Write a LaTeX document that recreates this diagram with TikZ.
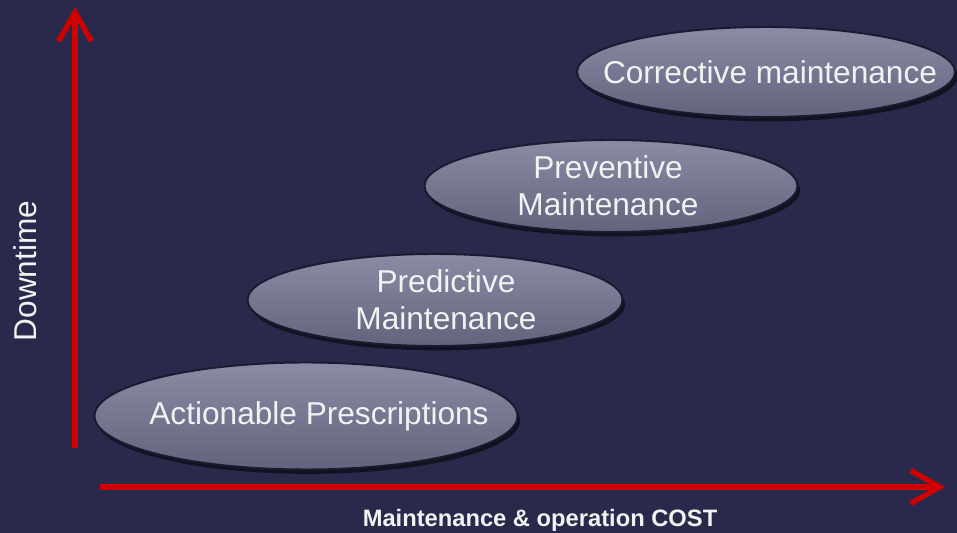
\documentclass[tikz,border=0pt]{standalone}
\usepackage{fontspec}
\setmainfont{Liberation Sans}
\usepackage{tikz}
\usetikzlibrary{arrows.meta,positioning,shapes.geometric,shadows}
\definecolor{NightBg}{HTML}{292A4B}
\definecolor{PillTop}{HTML}{8A8BA4}
\definecolor{PillMid}{HTML}{6B6C86}
\definecolor{PillLow}{HTML}{62637D}
\definecolor{PillRim}{HTML}{1A1B30}
\definecolor{AxisRed}{HTML}{D00000}
\definecolor{LabelWhite}{HTML}{F2F2F2}

\begin{document}
\begin{tikzpicture}[x=0.02cm, y=0.02cm, font=\fontsize{18}{21}\selectfont,
  stage/.style={ellipse, draw=PillRim, line width=1.1pt, top color=PillTop, middle color=PillMid, bottom color=PillLow,
    drop shadow={shadow xshift=1.5pt, shadow yshift=-2.5pt, opacity=0.55, fill=black}, inner sep=0pt},
  caption/.style={text=LabelWhite, align=center},
  axis/.style={line width=3pt, AxisRed, -{Straight Barb[length=0.58cm, width=0.66cm]}}]
\useasboundingbox (0,0) rectangle (957,533);
\fill[NightBg] (0,0) rectangle (957,533);

% axes
\coordinate (origin) at (75,85);
\coordinate (ytop) at (75,526);
\coordinate (xstart) at (100,46);
\coordinate (xend) at (945,46);
\draw[axis] (origin) -- (ytop);
\draw[axis] (xstart) -- (xend);

\node[caption, rotate=90] (ylabel) at (25,262) {Downtime};
\node[caption, font=\bfseries\fontsize{13.5}{16}\selectfont] (xlabel) at (540,13) {Maintenance \& operation COST};

% maintenance stages
\node[stage, minimum width=8.46cm, minimum height=2.14cm,
  label={[caption, xshift=0.26cm]center:Actionable Prescriptions}] (prescriptive) at (306,117) {};
\node[stage, minimum width=7.5cm, minimum height=1.84cm,
  label={[caption, xshift=0.22cm]center:Predictive\\Maintenance}] (predictive) at (435,233) {};
\node[stage, minimum width=7.46cm, minimum height=1.84cm,
  label={[caption, xshift=-0.06cm]center:Preventive\\Maintenance}] (preventive) at (611,347) {};
\node[stage, minimum width=7.56cm, minimum height=1.8cm,
  label={[caption, xshift=0.08cm]center:Corrective maintenance}] (corrective) at (766,461) {};
\end{tikzpicture}
\end{document}
